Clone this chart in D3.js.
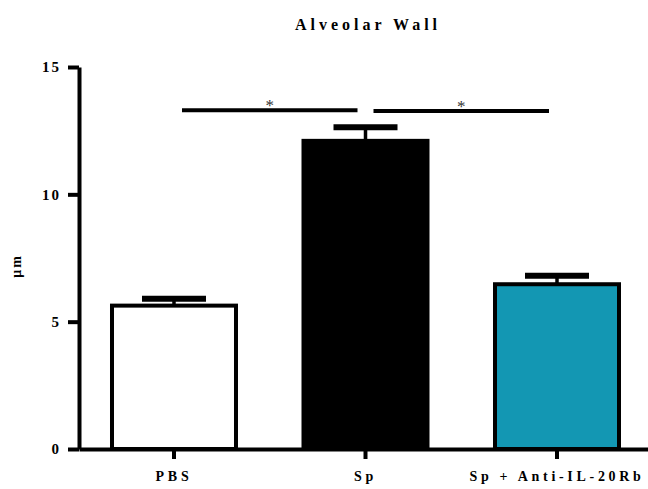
<!DOCTYPE html>
<html>
<head>
<meta charset="utf-8">
<script src="https://cdn.jsdelivr.net/npm/d3@7/dist/d3.min.js"></script>
<style>
  html, body { margin: 0; padding: 0; background: #fff; }
  svg { display: block; }
  text { font-family: "Liberation Serif", "Times New Roman", serif; font-weight: bold; fill: #000; }
</style>
</head>
<body>
<svg id="chart" width="648" height="489"></svg>
<script>
// ---- data ----
const categories = ["PBS", "Sp", "Sp + Anti-IL-20Rb"];
const means = [5.63, 12.1, 6.47];
const sems = [0.27, 0.53, 0.33];
const fills = ["#ffffff", "#000000", "#1397b3"];
const yTicks = [0, 5, 10, 15];
const sigPairs = [[0, 1], [1, 2]];
const sigLevel = [13.3, 13.27];
const sigLabels = ["*", "*"];
const title = "Alveolar Wall";
const yLabel = "μm";

// ---- layout ----
const W = 648, H = 489;
const svg = d3.select("#chart");
const x = d3.scaleBand().domain(categories).range([79, 652]).paddingInner(0.3525).paddingOuter(0.1723);
const y = d3.scaleLinear().domain([0, 15]).range([449, 67]);
const cx = i => x(categories[i]) + x.bandwidth() / 2;

// bars
svg.append("g").selectAll("rect").data(categories).join("rect")
  .attr("x", d => x(d))
  .attr("y", (d, i) => y(means[i]))
  .attr("width", x.bandwidth())
  .attr("height", (d, i) => y(0) - y(means[i]))
  .attr("fill", (d, i) => fills[i])
  .attr("stroke", "#000")
  .attr("stroke-width", 4);

// error bars
const eb = svg.append("g");
categories.forEach((c, i) => {
  eb.append("line")
    .attr("x1", cx(i)).attr("x2", cx(i))
    .attr("y1", y(means[i])).attr("y2", y(means[i] + sems[i]))
    .attr("stroke", "#000").attr("stroke-width", 3.5);
  eb.append("line")
    .attr("x1", cx(i) - 32).attr("x2", cx(i) + 32)
    .attr("y1", y(means[i] + sems[i])).attr("y2", y(means[i] + sems[i]))
    .attr("stroke", "#000").attr("stroke-width", 6);
});

// y axis
const yAxis = svg.append("g").attr("transform", "translate(79,0)")
  .call(d3.axisLeft(y).tickValues(yTicks).tickSize(11).tickSizeOuter(0).tickPadding(7).tickFormat(d3.format("d")));
yAxis.select(".domain").attr("stroke-width", 4).attr("stroke", "#000");
yAxis.selectAll(".tick line").attr("stroke-width", 4).attr("stroke", "#000");
yAxis.selectAll(".tick text").attr("font-size", 15).attr("letter-spacing", 2)
  .style("font-family", "'Liberation Serif', serif").style("font-weight", "bold");

// x axis
const xAxis = svg.append("g").attr("transform", "translate(0,449)")
  .call(d3.axisBottom(x).tickSize(10).tickSizeOuter(0).tickPadding(12));
xAxis.select(".domain").attr("stroke-width", 4).attr("stroke", "#000");
xAxis.selectAll(".tick line").attr("stroke-width", 4).attr("stroke", "#000");
xAxis.selectAll(".tick text").attr("font-size", 14).attr("letter-spacing", 3.7)
  .style("font-family", "'Liberation Serif', serif").style("font-weight", "bold");

// significance bars
const sg = svg.append("g");
sigPairs.forEach(([a, b], k) => {
  const x1 = cx(a) + 8, x2 = cx(b) - 8;
  sg.append("line")
    .attr("x1", x1).attr("x2", x2)
    .attr("y1", y(sigLevel[k])).attr("y2", y(sigLevel[k]))
    .attr("stroke", "#000").attr("stroke-width", 4);
  sg.append("text")
    .attr("x", (x1 + x2) / 2).attr("y", y(sigLevel[k]) + 1)
    .attr("text-anchor", "middle")
    .attr("font-size", 17)
    .style("font-weight", "normal").style("fill", "#333")
    .text(sigLabels[k]);
});

// title
svg.append("text")
  .attr("x", 368).attr("y", 30)
  .attr("text-anchor", "middle")
  .attr("font-size", 16)
  .attr("letter-spacing", 4)
  .text(title);

// y label
svg.append("text")
  .attr("transform", "translate(21,266) rotate(-90)")
  .attr("text-anchor", "middle")
  .attr("font-size", 14)
  .attr("letter-spacing", 2)
  .text(yLabel);
</script>
</body>
</html>
